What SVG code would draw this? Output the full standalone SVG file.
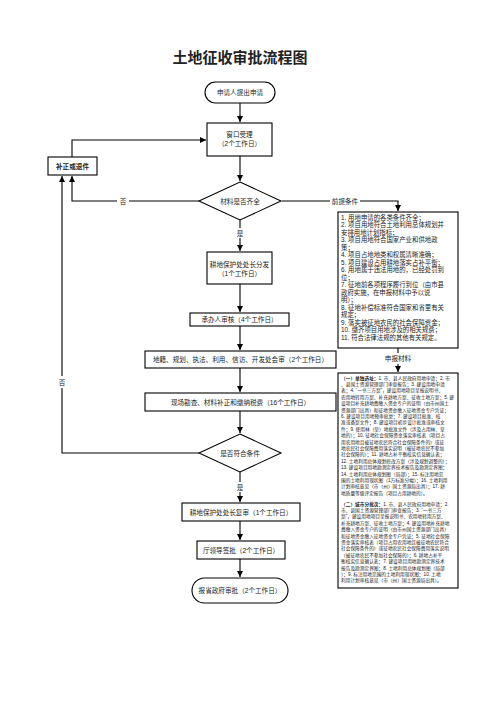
<svg xmlns="http://www.w3.org/2000/svg" width="504" height="713" viewBox="0 0 504 713">
<style>
text{font-family:"Liberation Sans","Noto Sans CJK SC",sans-serif;fill:#222}
.t{font-size:6.6px;text-anchor:middle;dominant-baseline:central}
.box{fill:#fff;stroke:#000;stroke-width:1.1}
.ln{fill:none;stroke:#000;stroke-width:1.1}
.arr{marker-end:url(#ah)}
.lbl{fill:#fff;stroke:none}
.cond{font-size:6.4px}
.sm{font-size:4.7px}
</style>
<defs>
<marker id="ah" markerUnits="userSpaceOnUse" markerWidth="7" markerHeight="7" refX="6" refY="3" orient="auto">
<path d="M0,0 L6,3 L0,6 z" fill="#000"/>
</marker>
</defs>
<rect width="504" height="713" fill="#fff"/>
<text x="240" y="57" style="font-size:15px;font-weight:bold;text-anchor:middle;dominant-baseline:central">土地征收审批流程图</text>

<g id="connectors">
<path class="ln arr" d="M240,103 V122"/>
<path class="ln arr" d="M240,156 V181"/>
<path class="ln arr" d="M199,201 H72 V176"/>
<path class="ln arr" d="M199,453 H62 V176"/>
<path class="ln arr" d="M72,157 V140 H206"/>
<path class="ln arr" d="M282,201 H398 V211"/>
<path class="ln arr" d="M240,220 V251"/>
<path class="ln arr" d="M240,284 V312"/>
<path class="ln arr" d="M240,326 V350"/>
<path class="ln arr" d="M240,368 V392"/>
<path class="ln arr" d="M240,411 V433"/>
<path class="ln arr" d="M240,472 V502"/>
<path class="ln arr" d="M240,521 V540"/>
<path class="ln arr" d="M240,559 V577"/>
<path class="ln arr" d="M398,348 V372"/>
<rect class="lbl" x="117" y="196" width="12" height="10"/>
<text class="t" x="123" y="201">否</text>
<rect class="lbl" x="56" y="376" width="12" height="12"/>
<text class="t" x="62" y="382">否</text>
<rect class="lbl" x="330" y="196" width="30" height="10"/>
<text class="t" x="345" y="201">前提条件</text>
<rect class="lbl" x="234" y="228" width="12" height="10"/>
<text class="t" x="240" y="233">是</text>
<rect class="lbl" x="234" y="482" width="12" height="10"/>
<text class="t" x="240" y="487">是</text>
<rect class="lbl" x="383" y="353" width="30" height="11"/>
<text class="t" x="398" y="358.5">申报材料</text>
</g>

<g id="n-start">
<rect class="box" x="205" y="82" width="70" height="21" rx="10.5"/>
<text class="t" x="240" y="92.5">申请人提出申请</text>
</g>
<g id="n-window">
<rect class="box" x="207" y="123" width="65" height="33"/>
<text class="t" x="239.5" y="134">窗口受理</text>
<text class="t" x="239.5" y="143.5">（2个工作日）</text>
</g>
<g id="n-correct">
<rect class="box" x="48" y="157" width="49" height="18"/>
<text class="t" x="72.5" y="166" style="font-weight:bold">补正或退件</text>
</g>
<g id="n-dec1">
<path class="box" d="M240,182 L281,201 L240,220 L199,201 Z"/>
<text class="t" x="240" y="201">材料是否齐全</text>
</g>
<g id="n-conditions">
<rect class="box" x="338" y="212" width="120" height="136"/>
<text class="cond">
<tspan x="341" y="219.5">1. 用地申请的各类条件齐全；</tspan>
<tspan x="341" y="227">2. 项目用地符合土地利用总体规划并</tspan>
<tspan x="341" y="234.5">安排用地计划指标；</tspan>
<tspan x="341" y="242">3. 项目用地符合国家产业和供地政</tspan>
<tspan x="341" y="249.5">策；</tspan>
<tspan x="341" y="257">4. 项目占地地类和权属清晰准确；</tspan>
<tspan x="341" y="264.5">5. 项目建设占用耕地落实占补平衡；</tspan>
<tspan x="341" y="272">6. 用地属于违法用地的，已经处罚到</tspan>
<tspan x="341" y="279.5">位；</tspan>
<tspan x="341" y="287">7. 征地前各项程序履行到位（由市县</tspan>
<tspan x="341" y="294.5">政府实施，在申报材料中予以说</tspan>
<tspan x="341" y="302">明）；</tspan>
<tspan x="341" y="309.5">8. 征地补偿标准符合国家和省里有关</tspan>
<tspan x="341" y="317">规定；</tspan>
<tspan x="341" y="324.5">9. 落实被征地农民的社会保障资金；</tspan>
<tspan x="341" y="332">10. 缴齐项目用地涉及的相关规费；</tspan>
<tspan x="341" y="339.5">11. 符合法律法规的其他有关规定。</tspan>
</text>
</g>
<g id="n-dist">
<rect class="box" x="207" y="252" width="65" height="32"/>
<text class="t" x="239.5" y="264">耕地保护处处长分发</text>
<text class="t" x="239.5" y="273">（1个工作日）</text>
</g>
<g id="n-review">
<rect class="box" x="190" y="313" width="99" height="13"/>
<text class="t" x="239.5" y="319.5">承办人审核（4个工作日）</text>
</g>
<g id="n-joint">
<rect class="box" x="145" y="351" width="191" height="17"/>
<text class="t" x="240.5" y="359.5">地籍、规划、执法、利用、信访、开发处会审（2个工作日）</text>
</g>
<g id="n-survey">
<rect class="box" x="145" y="393" width="191" height="18"/>
<text class="t" x="240.5" y="402">现场勘查、材料补正和缴纳税费（16个工作日）</text>
</g>
<g id="n-dec2">
<path class="box" d="M240,434 L281,453 L240,472 L199,453 Z"/>
<text class="t" x="240" y="453">是否符合条件</text>
</g>
<g id="n-recheck">
<rect class="box" x="182" y="503" width="118" height="18"/>
<text class="t" x="241" y="512">耕地保护处处长复审（1个工作日）</text>
</g>
<g id="n-sign">
<rect class="box" x="197" y="541" width="88" height="18"/>
<text class="t" x="241" y="550">厅领导签批（2个工作日）</text>
</g>
<g id="n-end">
<rect class="box" x="192" y="578" width="96" height="25" rx="12.5"/>
<text class="t" x="240" y="590.5">报省政府审批（2个工作日）</text>
</g>
<g id="n-materials">
<rect class="box" x="338" y="373" width="120" height="215"/>
<text class="sm">
<tspan x="341" y="379.5"><tspan font-weight="bold">（一）单独选址：</tspan>1. 市、县人民政府用地申请；2. 市</tspan>
<tspan x="341" y="385.9">、县国土资源管理部门审查报告；3. 建设用地申请</tspan>
<tspan x="341" y="392.3">表；4. “一书三方案”，建设用地项目呈报说明书、</tspan>
<tspan x="341" y="398.7">农用地转用方案、补充耕地方案、征收土地方案；5. 建</tspan>
<tspan x="341" y="405.1">设项目补充耕地费缴入资金专户的证明（由市州国土</tspan>
<tspan x="341" y="411.5">资源部门出具）和征地资金缴入征地资金专户凭证；</tspan>
<tspan x="341" y="417.9">6. 建设项目用地预审批复；7. 建设项目批准、核</tspan>
<tspan x="341" y="424.3">准或备案文件；8. 建设项目初步设计批准或审核文</tspan>
<tspan x="341" y="430.7">件；9. 使用林（草）地批准文件（涉及占用林、草</tspan>
<tspan x="341" y="437.1">地的）；10. 征地社会保障资金落实审核表（项目占</tspan>
<tspan x="341" y="443.5">用农用地且被征地农民符合社会保障条件的）或征</tspan>
<tspan x="341" y="449.9">地农民社会保障费用落实说明（被征地农民不参加</tspan>
<tspan x="341" y="456.3">社会保障的）；11. 耕地占补平衡核实信息确认表；</tspan>
<tspan x="341" y="462.7">12. 土地利用总体规划修改方案（涉及规划调整的）；</tspan>
<tspan x="341" y="469.1">13. 建设项目用地勘测定界技术报告及勘测定界图；</tspan>
<tspan x="341" y="475.5">14. 土地利用总体规划图（局部）；15. 标注用地范</tspan>
<tspan x="341" y="481.9">围的土地利用现状图（1万标准分幅）；16. 土地利用</tspan>
<tspan x="341" y="488.3">计划审核意见（市（州）国土资源局出具）；17. 耕</tspan>
<tspan x="341" y="494.7">地质量等级评定报告（项目占用耕地的）。</tspan>
<tspan x="341" y="505.5"><tspan font-weight="bold">（二）城市分批次：</tspan>1. 市、县人民政府用地申请；2.</tspan>
<tspan x="341" y="511.9">市、县国土资源管理部门审查报告；3. “一书三方</tspan>
<tspan x="341" y="518.3">案”，建设用地项目呈报说明书、农用地转用方案、</tspan>
<tspan x="341" y="524.7">补充耕地方案、征收土地方案；4. 建设用地补充耕地</tspan>
<tspan x="341" y="531.1">费缴入资金专户的证明（由市州国土资源部门出具）</tspan>
<tspan x="341" y="537.5">和征地资金缴入征地资金专户凭证；5. 征地社会保障</tspan>
<tspan x="341" y="543.9">资金落实审核表（项目占用农用地且被征地农民符合</tspan>
<tspan x="341" y="550.3">社会保障条件的）或征地农民社会保障费用落实说明</tspan>
<tspan x="341" y="556.7">（被征地农民不参加社会保障的）；6. 耕地占补平</tspan>
<tspan x="341" y="563.1">衡核实信息确认表；7. 建设项目用地勘测定界技术</tspan>
<tspan x="341" y="569.5">报告及勘测定界图；8. 土地利用总体规划图（局部</tspan>
<tspan x="341" y="575.9">）；9. 标注用地范围的土地利用现状图；10. 土地</tspan>
<tspan x="341" y="582.3">利用计划审核意见（市（州）国土资源局出具）。</tspan>
</text>
</g>
</svg>
